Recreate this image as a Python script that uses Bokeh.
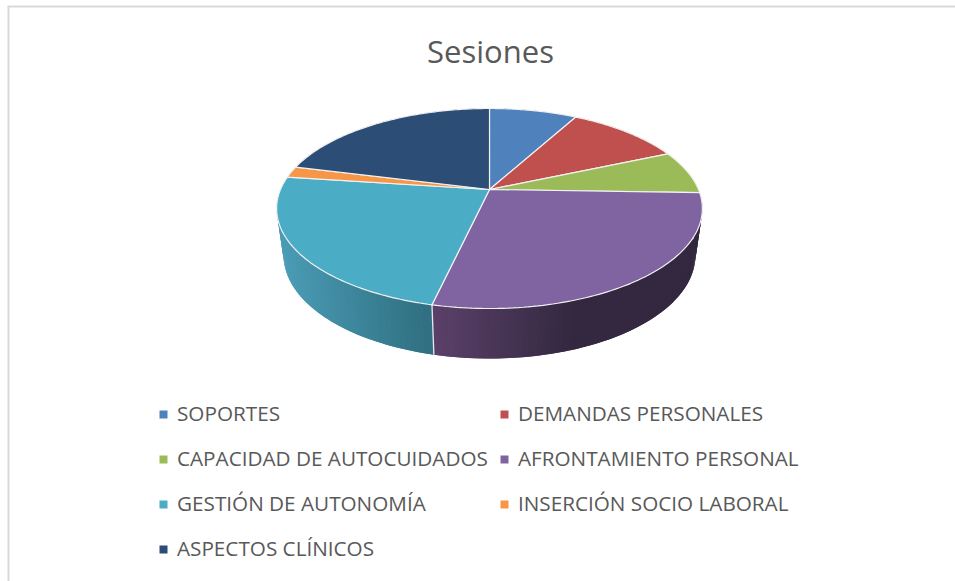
import numpy as np
from bokeh.plotting import figure
from bokeh.models import Range1d
from bokeh.core.properties import value
from bokeh.embed import file_html
from bokeh.resources import INLINE

title_text = "Sesiones"
categories = ["SOPORTES", "DEMANDAS PERSONALES", "CAPACIDAD DE AUTOCUIDADOS",
              "AFRONTAMIENTO PERSONAL", "GESTIÓN DE AUTONOMÍA",
              "INSERCIÓN SOCIO LABORAL", "ASPECTOS CLÍNICOS"]
sessions = [8.0, 10.5, 7.0, 28.1, 23.5, 1.8, 21.1]
colors = ["#4f81bd", "#c0504d", "#9bbb59", "#8064a2", "#4bacc6", "#f79646", "#2c4d75"]

W, H = 955, 581
p = figure(width=W, height=H, output_backend="svg", toolbar_location=None,
           x_range=Range1d(0, W), y_range=Range1d(H, 0),
           min_border=0, outline_line_color=None, background_fill_color="white")
p.axis.visible = False
p.grid.visible = False

# projection of the pie disc
CX, CY, A, B, K = 489.0, 189.0, 209.0, 96.4, 0.19
def top(t):
    u, v = np.sin(t), np.cos(t)
    d = 1 + K * v
    return CX + A * u / d, CY - B * v / d
ELL_Y, BOT_Y, BOT_SX, BOT_SY = 208.0, 255.0, 0.967, 1.03
def bottom(t):
    x, y = top(t)
    return CX + (x - CX) * BOT_SX, BOT_Y + (y - ELL_Y) * BOT_SY

def mix(c1, c2, f):
    f = float(np.clip(f, 0, 1))
    a = [int(c1[i:i+2], 16) for i in (1, 3, 5)]
    b = [int(c2[i:i+2], 16) for i in (1, 3, 5)]
    return "#%02x%02x%02x" % tuple(round(a[i] + (b[i] - a[i]) * f) for i in range(3))

edges = 2 * np.pi * np.concatenate([[0], np.cumsum(sessions)]) / sum(sessions)

# chart frame
p.line([8, 8], [6, H], line_color="#d9d9d9", line_width=2)
p.line([7, W], [6, 6], line_color="#d9d9d9", line_width=2)

# side wall, drawn as thin strips so that its shading can vary
for i, col in enumerate(colors):
    n = max(2, int((edges[i + 1] - edges[i]) / 0.02))
    ts = np.linspace(edges[i], edges[i + 1], n + 1)
    xs, ys, fills = [], [], []
    for a, b in zip(ts[:-1], ts[1:]):
        xa, ya = top(a); xb, yb = top(b + 0.02)
        xc, yc = bottom(b + 0.02); xd, yd = bottom(a)
        mx = (xa + xb) / 2
        if i == 3:
            c = mix("#5a4069", "#33283f", (mx - 432) / 140)
        elif i == 4:
            c = mix("#4a9bb5", "#2f6f80", (mx - 283) / 148)
        else:
            c = mix(col, "#000000", 0.45)
        xs.append([xa, xb, xc, xd]); ys.append([ya, yb, yc, yd]); fills.append(c)
    order = range(len(xs)) if i != 4 else range(len(xs) - 1, -1, -1)
    p.patches([xs[j] for j in order], [ys[j] for j in order],
              fill_color=[fills[j] for j in order], line_color=None)

# divider on the wall between the purple and teal slices
for e in edges[1:-1]:
    if np.pi / 2 < e < 3 * np.pi / 2:
        xt, yt = top(e); xb, yb = bottom(e)
        p.line([xt, xb], [yt, yb], line_color="#e8e8ee", line_width=1.3)

# top face
for i, col in enumerate(colors):
    ts = np.linspace(edges[i], edges[i + 1], 90)
    x, y = top(ts)
    p.patch(np.r_[CX, x], np.r_[CY, y], fill_color=col, line_color="#f2f2f2", line_width=1.2)

# title
p.text([490], [50], text=[title_text], text_font=value("Open Sans"), text_font_size="31px",
       text_color="#595959", text_align="center", text_baseline="middle")

# legend
col_x = [163, 504]
text_x = [176.5, 517.5]
row_y = [412.5, 457.5, 502.5, 547.5]
mark_y = [414, 459, 504, 549]
for i, (name, col) in enumerate(zip(categories, colors)):
    cx, ry, my = i % 2, row_y[i // 2], mark_y[i // 2]
    p.scatter([col_x[cx]], [my], marker="square", size=8, fill_color=col, line_color=None)
    p.text([text_x[cx]], [ry], text=[name], text_font=value("Open Sans"), text_font_size="20.7px",
           text_color="#595959", text_align="left", text_baseline="middle")

open("out.html", "w").write(file_html(p, INLINE))
